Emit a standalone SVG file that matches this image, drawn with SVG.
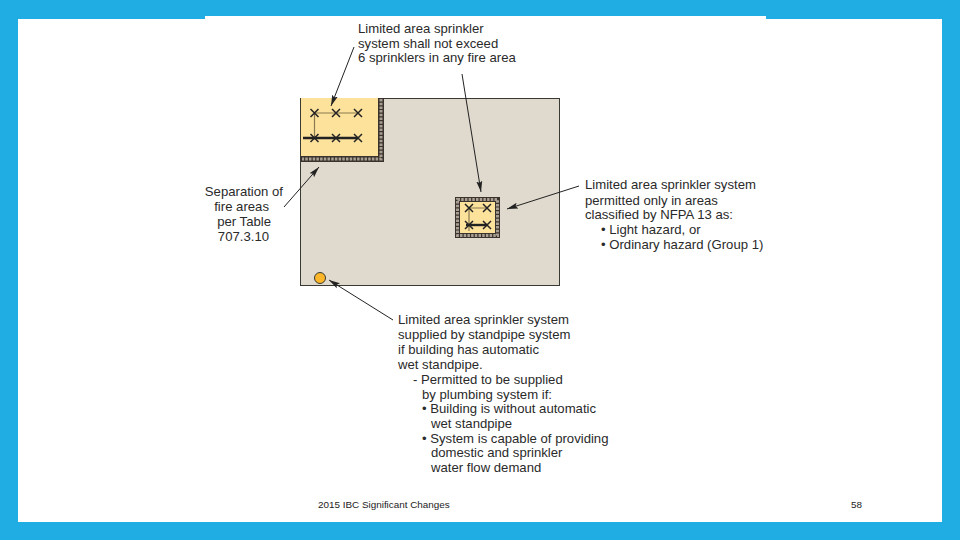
<svg xmlns="http://www.w3.org/2000/svg" width="960" height="540" viewBox="0 0 960 540">
<style>
text{font-family:"Liberation Sans",Arial,sans-serif;font-size:13.15px;fill:#2a2a2a}
.foot{font-size:9.9px;fill:#222}
.w{fill:#3a322c}
.h{fill:none;stroke:#a89f92;stroke-width:3;stroke-dasharray:2.500 1.200}
.l{stroke:#222;stroke-width:1;fill:none}
.p{stroke:#8a7a50;stroke-width:1.200;fill:none}
.m{stroke:#222;stroke-width:2.400;fill:none}
.x{stroke:#222;stroke-width:1.500;fill:none}
</style>
<defs>
<marker id="a" markerUnits="userSpaceOnUse" markerWidth="12" markerHeight="8" refX="11" refY="4" orient="auto"><path d="M0 1L11 4L0 7L2 4Z" fill="#222"/></marker>
<path id="xx" d="M-4 -4L4 4M-4 4L4 -4" class="x"/>
</defs>
<rect width="960" height="540" fill="#1fade4"/>
<rect x="18" y="19" width="924" height="503" fill="#fff"/>
<rect x="205" y="16" width="561" height="4" fill="#fff"/>
<g id="building">
<rect x="300.500" y="98.500" width="259" height="187" fill="#e0d9cd" stroke="#3a3a34" stroke-width="1"/>
</g>
<g id="fire-area-1">
<path class="w" d="M301 98H384V162H301V156H378V98Z"/>
<path class="h" d="M381 99V159H302"/>
<rect x="301" y="98" width="77" height="58" fill="#fde29c"/>
<path class="p" d="M314.500 113H358M314.500 113V138"/>
<path class="m" d="M303 138H358"/>
<use href="#xx" x="314.500" y="113"/><use href="#xx" x="336" y="113"/><use href="#xx" x="358" y="113"/>
<use href="#xx" x="314.500" y="138"/><use href="#xx" x="336" y="138"/><use href="#xx" x="358" y="138"/>
</g>
<g id="fire-area-2">
<rect x="455" y="197" width="45" height="41" fill="#3a322c"/>
<rect x="457.500" y="199.500" width="40" height="36" fill="none" stroke="#a89f92" stroke-width="3" stroke-dasharray="2.500 1.200"/>
<rect x="460" y="202" width="35" height="31" fill="#fde29c"/>
<path class="p" d="M469 208H487M469 208V231"/>
<path class="m" d="M466 225H487"/>
<use href="#xx" x="469" y="208"/><use href="#xx" x="487" y="208"/>
<use href="#xx" x="469" y="225"/><use href="#xx" x="487" y="225"/>
</g>
<g id="supply">
<circle cx="320" cy="278" r="5.500" fill="#fbb62a" stroke="#3a3a34" stroke-width="1"/>
</g>
<g id="connectors">
<path class="l" marker-end="url(#a)" d="M354 47L331 106"/>
<path class="l" marker-end="url(#a)" d="M462 74L481 192"/>
<path class="l" marker-end="url(#a)" d="M579 186L507 209"/>
<path class="l" marker-end="url(#a)" d="M284 207L319 167"/>
<path class="l" marker-end="url(#a)" d="M393 320L329 280"/>
</g>
<g id="label-top">
<text x="358" y="33">Limited area sprinkler</text>
<text x="358" y="47.500">system shall not exceed</text>
<text x="358" y="62">6 sprinklers in any fire area</text>
</g>
<g id="label-separation" text-anchor="end">
<text x="283" y="196">Separation of</text>
<text x="269" y="211">fire areas</text>
<text x="271" y="226">per Table</text>
<text x="269" y="241">707.3.10</text>
</g>
<g id="label-right">
<text x="585" y="189">Limited area sprinkler system</text>
<text x="585" y="204.500">permitted only in areas</text>
<text x="585" y="219">classified by NFPA 13 as:</text>
<text x="601" y="234">• Light hazard, or</text>
<text x="601" y="249">• Ordinary hazard (Group 1)</text>
</g>
<g id="label-bottom">
<text x="398" y="324">Limited area sprinkler system</text>
<text x="398" y="339">supplied by standpipe system</text>
<text x="398" y="354">if building has automatic</text>
<text x="398" y="369">wet standpipe.</text>
<text x="413" y="384">- Permitted to be supplied</text>
<text x="422" y="398.500">by plumbing system if:</text>
<text x="422" y="413">• Building is without automatic</text>
<text x="431" y="428">wet standpipe</text>
<text x="422" y="442.500">• System is capable of providing</text>
<text x="431" y="457">domestic and sprinkler</text>
<text x="431" y="472">water flow demand</text>
</g>
<g id="footer">
<text class="foot" x="318" y="508">2015 IBC Significant Changes</text>
<text class="foot" x="851" y="508">58</text>
</g>
</svg>
